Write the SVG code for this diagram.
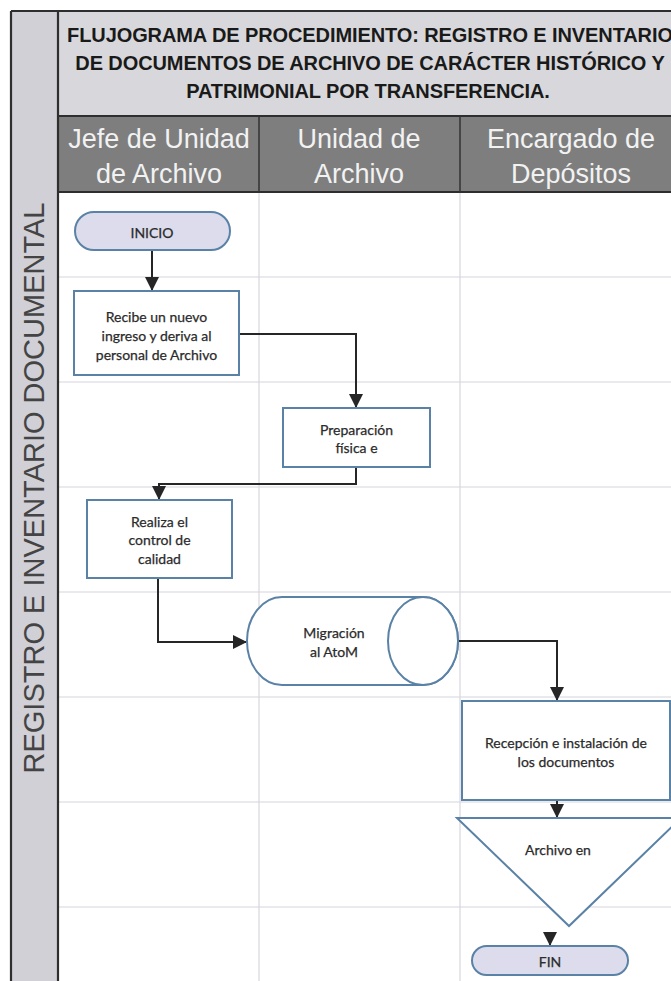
<svg xmlns="http://www.w3.org/2000/svg" width="671" height="981" viewBox="0 0 671 981">
<style>
.grid{stroke:#d6d6de;stroke-width:1.2;fill:none}
.frame{stroke:#2e2e2e;stroke-width:2.2;fill:none}
.node{fill:#ffffff;stroke:#5a82a6;stroke-width:2}
.term{fill:#dcdcec;stroke:#5a82a6;stroke-width:2}
.ntxt{font-family:Lato,"Open Sans","Liberation Sans",sans-serif;font-size:14px;fill:#2b2b2b;text-anchor:middle;dominant-baseline:central;stroke:#2b2b2b;stroke-width:0.25}
.htxt{font-family:"Liberation Sans",Arial,sans-serif;font-size:27px;fill:#f2f2f2;text-anchor:middle}
.ttxt{font-family:"Liberation Sans",Arial,sans-serif;font-size:20px;font-weight:bold;fill:#1a1a1a;text-anchor:middle;letter-spacing:-0.1px}
.conn{stroke:#262626;stroke-width:2;fill:none;marker-end:url(#arr)}
</style>
<defs>
<marker id="arr" markerWidth="14" markerHeight="14" refX="13" refY="7" orient="auto" markerUnits="userSpaceOnUse">
<path d="M0,0 L14,7 L0,14 Z" fill="#262626"/>
</marker>
</defs>
<rect x="0" y="0" width="671" height="981" fill="#ffffff"/>
<g id="frame">
<rect x="11" y="11" width="47" height="980" fill="#d0d0d6"/>
<rect x="58" y="11" width="620" height="105" fill="#d8d8dc"/>
<rect x="58" y="116" width="620" height="76" fill="#7e7e7e"/>
<line class="grid" x1="58" y1="277" x2="671" y2="277"/>
<line class="grid" x1="58" y1="382" x2="671" y2="382"/>
<line class="grid" x1="58" y1="487" x2="671" y2="487"/>
<line class="grid" x1="58" y1="592" x2="671" y2="592"/>
<line class="grid" x1="58" y1="697" x2="671" y2="697"/>
<line class="grid" x1="58" y1="802" x2="671" y2="802"/>
<line class="grid" x1="58" y1="907" x2="671" y2="907"/>
<line class="grid" x1="259" y1="192" x2="259" y2="981"/>
<line class="grid" x1="460" y1="192" x2="460" y2="981"/>
<line class="frame" x1="11" y1="11" x2="671" y2="11"/>
<line class="frame" x1="11" y1="11" x2="11" y2="981"/>
<line class="frame" x1="58" y1="11" x2="58" y2="981"/>
<line class="frame" x1="58" y1="116" x2="671" y2="116"/>
<line class="frame" x1="58" y1="192" x2="671" y2="192"/>
<line stroke="#333" stroke-width="1.5" x1="259" y1="116" x2="259" y2="192"/>
<line stroke="#333" stroke-width="1.5" x1="460" y1="116" x2="460" y2="192"/>
<text class="ttxt" x="370" y="42">FLUJOGRAMA DE PROCEDIMIENTO: REGISTRO E INVENTARIO</text>
<text class="ttxt" x="370" y="70">DE DOCUMENTOS DE ARCHIVO DE CARÁCTER HISTÓRICO Y</text>
<text class="ttxt" x="368" y="98">PATRIMONIAL POR TRANSFERENCIA.</text>
<text class="htxt" x="159" y="148">Jefe de Unidad</text>
<text class="htxt" x="159" y="183">de Archivo</text>
<text class="htxt" x="359" y="148">Unidad de</text>
<text class="htxt" x="359" y="183">Archivo</text>
<text class="htxt" x="571" y="148">Encargado de</text>
<text class="htxt" x="571" y="183">Depósitos</text>
<text font-family="Liberation Sans, Arial, sans-serif" font-size="29" fill="#444444" text-anchor="middle" transform="translate(44,488) rotate(-90)">REGISTRO E INVENTARIO DOCUMENTAL</text>
</g>
<g id="connectors">
<path class="conn" d="M152,250 L152,290"/>
<path class="conn" d="M239,334 L356,334 L356,407"/>
<path class="conn" d="M356,467 L356,484 L159,484 L159,499"/>
<path class="conn" d="M158,578 L158,642 L246,642"/>
<path class="conn" d="M458,641 L557,641 L557,700"/>
<path class="conn" d="M557,800 L557,817"/>
<path class="conn" d="M550,932 L550,945"/>
</g>
<g id="inicio">
<rect class="term" x="75" y="212" width="155" height="38" rx="19"/>
<text class="ntxt" x="152" y="232" font-size="12.5">INICIO</text>
</g>
<g id="recibe">
<rect class="node" x="74" y="291" width="165" height="84"/>
<text class="ntxt" x="156.5" y="316">Recibe  un nuevo</text>
<text class="ntxt" x="156.5" y="335">ingreso y deriva al</text>
<text class="ntxt" x="156.5" y="354">personal de Archivo</text>
</g>
<g id="preparacion">
<rect class="node" x="283" y="408" width="147" height="59"/>
<text class="ntxt" x="356.5" y="429">Preparación</text>
<text class="ntxt" x="356.5" y="447">física e</text>
</g>
<g id="realiza">
<rect class="node" x="87" y="500" width="145" height="78"/>
<text class="ntxt" x="159.5" y="521">Realiza el</text>
<text class="ntxt" x="159.5" y="539">control de</text>
<text class="ntxt" x="159.5" y="558">calidad</text>
</g>
<g id="migracion">
<path class="node" d="M282,597 L423,597 A35,44 0 0 1 423,685 L282,685 A35,44 0 0 1 282,597 Z"/>
<ellipse class="node" cx="423" cy="641" rx="35" ry="44"/>
<text class="ntxt" x="334" y="632">Migración</text>
<text class="ntxt" x="334" y="651">al AtoM</text>
</g>
<g id="recepcion">
<rect class="node" x="462" y="701" width="208" height="99"/>
<text class="ntxt" x="566" y="742">Recepción  e instalación de</text>
<text class="ntxt" x="566" y="761">los documentos</text>
</g>
<g id="archivo">
<path class="node" d="M457,818 L681,818 L569,926 Z"/>
<text class="ntxt" x="558" y="849">Archivo en</text>
</g>
<g id="fin">
<rect class="term" x="472" y="946" width="156" height="29" rx="14.5"/>
<text class="ntxt" x="550" y="961" font-size="12.5">FIN</text>
</g>
</svg>
